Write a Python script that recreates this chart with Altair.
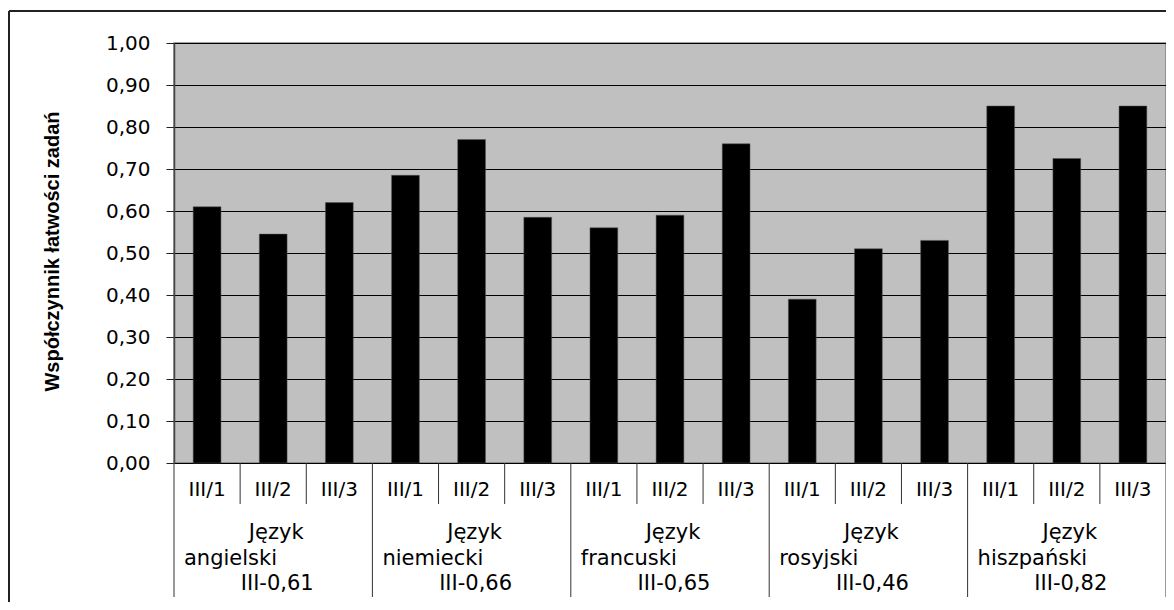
import altair as alt
import pandas as pd

# ---- data ----
languages = ["angielski", "niemiecki", "francuski", "rosyjski", "hiszpański"]
group_line1 = ["Język", "Język", "Język", "Język", "Język"]
group_line2 = ["angielski", "niemiecki", "francuski", "rosyjski", "hiszpański"]
group_line3 = ["III-0,61", "III-0,66", "III-0,65", "III-0,46", "III-0,82"]
parts = ["III/1", "III/2", "III/3"]
values_angielski = [0.61, 0.545, 0.62]
values_niemiecki = [0.685, 0.77, 0.585]
values_francuski = [0.56, 0.59, 0.76]
values_rosyjski = [0.39, 0.51, 0.53]
values_hiszpanski = [0.85, 0.725, 0.85]
y_ticks = [0.0, 0.1, 0.2, 0.3, 0.4, 0.5, 0.6, 0.7, 0.8, 0.9, 1.0]
y_title = "Współczynnik łatwości zadań"

all_values = [values_angielski, values_niemiecki, values_francuski,
              values_rosyjski, values_hiszpanski]

# ---- tables built from the arrays ----
rows = []
keys = []
for g, lang in enumerate(languages):
    for p, part in enumerate(parts):
        k = f"{lang}|{part}"
        keys.append(k)
        rows.append({"key": k, "value": all_values[g][p], "part": part,
                     "pos": g * 3 + p + 0.5})
bars_df = pd.DataFrame(rows)

n = len(keys)
sep_rows = []
for b in range(n + 1):
    sep_rows.append({"pos": b, "kind": "long" if b % 3 == 0 else "short"})
sep_df = pd.DataFrame(sep_rows)

grp_rows = []
for g in range(len(languages)):
    grp_rows.append({"center": g * 3 + 1.5, "left": g * 3,
                     "l1": group_line1[g], "l2": group_line2[g], "l3": group_line3[g]})
grp_df = pd.DataFrame(grp_rows)

W, H = 992, 420
FONT = "DejaVu Sans"
FS = 20
GFS = 21
xq = alt.Scale(domain=[0, n], nice=False, zero=False)

bars = alt.Chart(bars_df).mark_bar(color="black", stroke="#555", strokeWidth=0.5).encode(
    x=alt.X("key:N", sort=keys, axis=None,
            scale=alt.Scale(paddingInner=0.58, paddingOuter=0.29)),
    y=alt.Y("value:Q",
            scale=alt.Scale(domain=[0, 1], nice=False, zero=True),
            axis=alt.Axis(values=y_ticks,
                          labelExpr="replace(format(datum.value, '.2f'), '.', ',')",
                          labelFont=FONT, labelFontSize=FS, labelColor="black",
                          labelPadding=16, tickSize=8, tickColor="#222",
                          domainColor="#444", domainWidth=1.5,
                          grid=True, gridColor="black", gridWidth=1, gridOpacity=1,
                          title=y_title, titleFont="Liberation Sans",
                          titleFontSize=20, titleFontWeight="bold",
                          titleColor="black", titleAngle=270,
                          titleX=-122, titleY=H / 2 - 2,
                          titleAlign="center", titleBaseline="middle")),
)

short_sep = alt.Chart(sep_df).transform_filter("datum.kind == 'short'").mark_rule(
    color="#333", strokeWidth=1).encode(
    x=alt.X("pos:Q", scale=xq, axis=None),
    y=alt.value(H), y2=alt.value(H + 41))

long_sep = alt.Chart(sep_df).transform_filter("datum.kind == 'long'").mark_rule(
    color="#333", strokeWidth=1).encode(
    x=alt.X("pos:Q", scale=xq, axis=None),
    y=alt.value(H), y2=alt.value(H + 134))

sub_labels = alt.Chart(bars_df).mark_text(
    font=FONT, fontSize=FS, color="black", baseline="middle", align="center").encode(
    x=alt.X("pos:Q", scale=xq, axis=None),
    y=alt.value(H + 27), text="part:N")

g1 = alt.Chart(grp_df).mark_text(
    font=FONT, fontSize=GFS, color="black", baseline="middle", align="center", dx=3).encode(
    x=alt.X("center:Q", scale=xq, axis=None), y=alt.value(H + 70), text="l1:N")
g2 = alt.Chart(grp_df).mark_text(
    font=FONT, fontSize=GFS, color="black", baseline="middle", align="left", dx=10).encode(
    x=alt.X("left:Q", scale=xq, axis=None), y=alt.value(H + 96), text="l2:N")
g3 = alt.Chart(grp_df).mark_text(
    font=FONT, fontSize=GFS, color="black", baseline="middle", align="center", dx=4).encode(
    x=alt.X("center:Q", scale=xq, axis=None), y=alt.value(H + 121), text="l3:N")

frame_left = alt.Chart(grp_df).mark_rule(color="#222", strokeWidth=1.5).encode(
    x=alt.value(-165), y=alt.value(-32), y2=alt.value(H + 200))
frame_top = alt.Chart(grp_df).mark_rule(color="#222", strokeWidth=1.5).encode(
    x=alt.value(-165), x2=alt.value(W + 50), y=alt.value(-32))

chart = alt.layer(
    bars, short_sep, long_sep, sub_labels, g1, g2, g3, frame_left, frame_top
).resolve_scale(x="independent").properties(
    width=W, height=H,
    autosize=alt.AutoSizeParams(type="none"),
    padding={"left": 166, "top": 35, "right": 0, "bottom": 139},
    background="white",
).configure_view(
    fill="#C0C0C0", stroke="#808080", strokeWidth=1.5
)

chart.save("out.html", embed_options={"renderer": "svg", "actions": False})
